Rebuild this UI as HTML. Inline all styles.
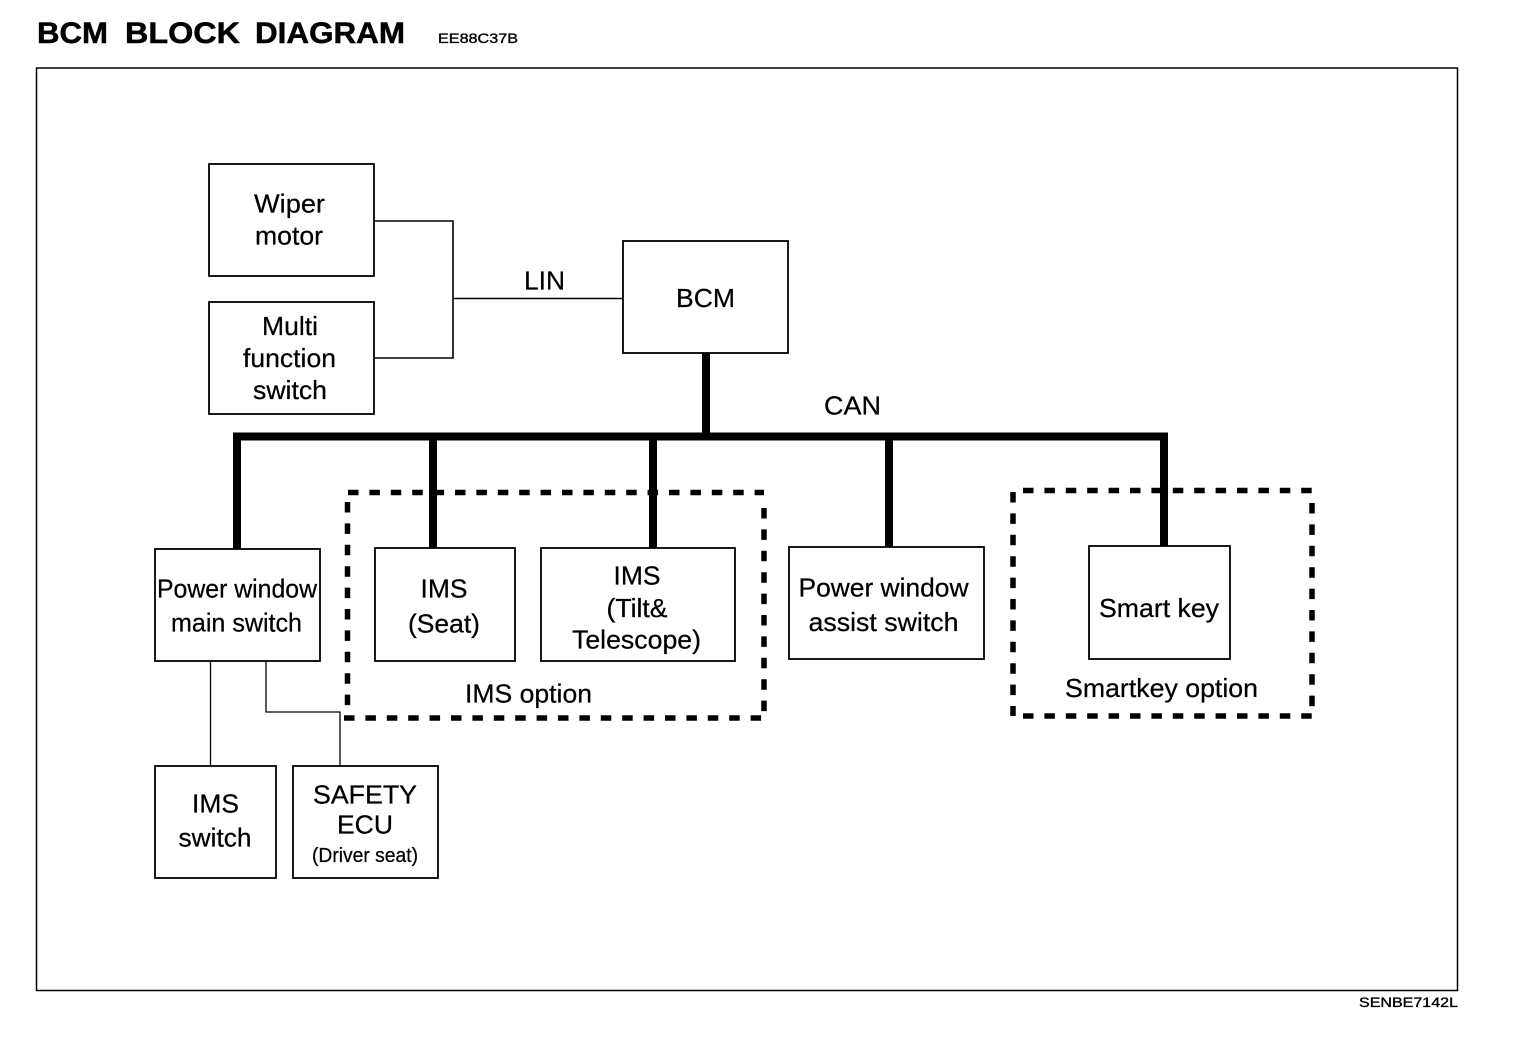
<!DOCTYPE html>
<html>
<head>
<meta charset="utf-8">
<style>
html,body{margin:0;padding:0;background:#fff;}
svg{display:block;}
text{font-family:"Liberation Sans",sans-serif;fill:#000;stroke:#000;stroke-width:.25px;text-anchor:middle;font-size:26px;}
.t{text-anchor:start;font-size:30px;font-weight:bold;stroke-width:.5px;}
.s{text-anchor:start;font-size:14px;stroke-width:.35px;}
</style>
</head>
<body>
<svg width="1520" height="1044" viewBox="0 0 1520 1044" xmlns="http://www.w3.org/2000/svg">
<rect width="1520" height="1044" fill="#fff"/>
<text class="t" x="37" y="43" textLength="71" lengthAdjust="spacingAndGlyphs">BCM</text>
<text class="t" x="125" y="43" textLength="115" lengthAdjust="spacingAndGlyphs">BLOCK</text>
<text class="t" x="255" y="43" textLength="150" lengthAdjust="spacingAndGlyphs">DIAGRAM</text>
<text class="s" x="438" y="43" textLength="80" lengthAdjust="spacingAndGlyphs">EE88C37B</text>
<rect x="36.5" y="68" width="1421" height="922.5" fill="none" stroke="#000" stroke-width="1.5"/>

<g fill="none" stroke="#000" stroke-width="1.8">
<rect x="209" y="164" width="165" height="112"/>
<rect x="209" y="302" width="165" height="112"/>
<rect x="623" y="241" width="165" height="112"/>
<rect x="155" y="549" width="165" height="112"/>
<rect x="375" y="548" width="140" height="113"/>
<rect x="541" y="548" width="194" height="113"/>
<rect x="789" y="547" width="195" height="112"/>
<rect x="1089" y="546" width="141" height="113"/>
<rect x="155" y="766" width="121" height="112"/>
<rect x="293" y="766" width="145" height="112"/>
<path d="M374 221H453V358H374M453 298.500H623" stroke-width="1.6"/>
<path d="M210.500 661V766M266 661V712H340V766" stroke-width="1.3"/>
</g>

<g fill="none" stroke="#000" stroke-width="8">
<path d="M706 353V436.500M233 436.500H1168"/>
<path d="M237 436.500V549M433 436.500V548M653 436.500V548M889 436.500V547M1164 436.500V546"/>
</g>

<g fill="none" stroke="#000" stroke-width="5.500" stroke-dasharray="10.500 10.900">
<path d="M348 492.500H764"/>
<path d="M344 718H764"/>
<path d="M347.500 502V718"/>
<path d="M764 508V712"/>
<path d="M1023 490.500H1313"/>
<path d="M1023 716H1313"/>
<path d="M1013 492V716"/>
<path d="M1312 503V716"/>
</g>

<text x="289.500" y="212.500" textLength="71" lengthAdjust="spacingAndGlyphs">Wiper</text>
<text x="289" y="244.500" textLength="68" lengthAdjust="spacingAndGlyphs">motor</text>
<text x="290" y="335" textLength="56" lengthAdjust="spacingAndGlyphs">Multi</text>
<text x="289.500" y="367" textLength="93" lengthAdjust="spacingAndGlyphs">function</text>
<text x="290" y="399" textLength="74" lengthAdjust="spacingAndGlyphs">switch</text>
<text x="544.500" y="289.500" textLength="41" lengthAdjust="spacingAndGlyphs">LIN</text>
<text x="705.500" y="307" textLength="59" lengthAdjust="spacingAndGlyphs">BCM</text>
<text x="852.500" y="414.500" textLength="57" lengthAdjust="spacingAndGlyphs">CAN</text>
<text x="237" y="597.500" textLength="160" lengthAdjust="spacingAndGlyphs">Power window</text>
<text x="236.500" y="631.500" textLength="131" lengthAdjust="spacingAndGlyphs">main switch</text>
<text x="444" y="597.500" textLength="47" lengthAdjust="spacingAndGlyphs">IMS</text>
<text x="444" y="632.500" textLength="72" lengthAdjust="spacingAndGlyphs">(Seat)</text>
<text x="637" y="584.500" textLength="47" lengthAdjust="spacingAndGlyphs">IMS</text>
<text x="637" y="617" textLength="61" lengthAdjust="spacingAndGlyphs">(Tilt&amp;</text>
<text x="636.500" y="648.500" textLength="129" lengthAdjust="spacingAndGlyphs">Telescope)</text>
<text x="883.500" y="596.500" textLength="170" lengthAdjust="spacingAndGlyphs">Power window</text>
<text x="883.500" y="631" textLength="150" lengthAdjust="spacingAndGlyphs">assist switch</text>
<text x="1159" y="617" textLength="120" lengthAdjust="spacingAndGlyphs">Smart key</text>
<text x="528.500" y="702.500" textLength="127" lengthAdjust="spacingAndGlyphs">IMS option</text>
<text x="1161.500" y="697" textLength="193" lengthAdjust="spacingAndGlyphs">Smartkey option</text>
<text x="215.500" y="812.500" textLength="47" lengthAdjust="spacingAndGlyphs">IMS</text>
<text x="215" y="846.500" textLength="73" lengthAdjust="spacingAndGlyphs">switch</text>
<text x="365" y="803.500" textLength="104" lengthAdjust="spacingAndGlyphs">SAFETY</text>
<text x="365" y="833.500" textLength="56" lengthAdjust="spacingAndGlyphs">ECU</text>
<text x="365" y="862" style="font-size:20px" textLength="106" lengthAdjust="spacingAndGlyphs">(Driver seat)</text>
<text class="s" x="1359" y="1007" textLength="99" lengthAdjust="spacingAndGlyphs">SENBE7142L</text>
</svg>
</body>
</html>
